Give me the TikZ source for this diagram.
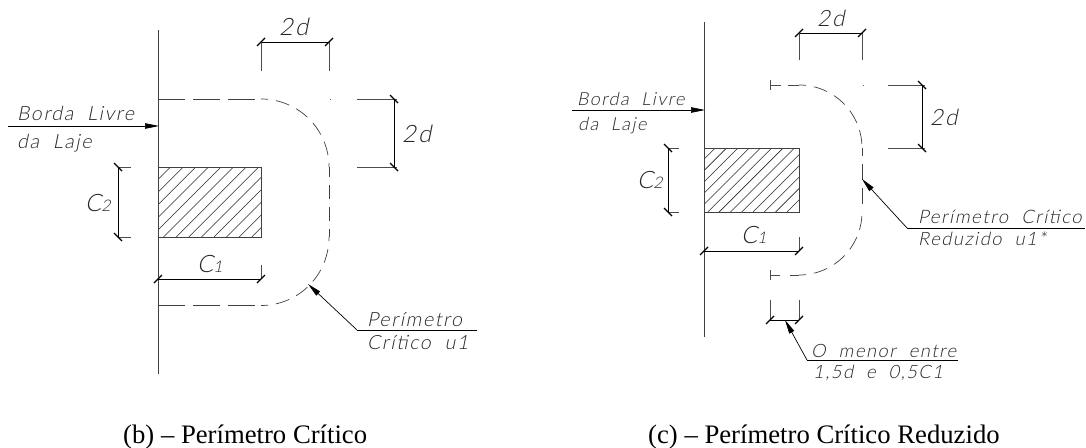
\documentclass[tikz,border=0pt]{standalone}
\usepackage{fontspec}
\setmainfont{Liberation Serif}
\newfontfamily\cadfont[FakeSlant=0.2,LetterSpace=8,WordSpace=2]{Lato Light}
\usetikzlibrary{arrows.meta,calc}
\tikzset{
  x=1pt,y=-1pt,
  edgeline/.style={draw=black!75,line width=0.9pt},
  dimline/.style={draw=black,line width=0.7pt},
  extline/.style={draw=black!70,line width=0.7pt},
  tickmark/.style={draw=black,line width=1.1pt},
  dashbig/.style={draw=black!75,line width=0.7pt,dash pattern=on 27pt off 8pt},
  dashvert/.style={draw=black!75,line width=0.7pt,dash pattern=on 14pt off 8pt},
  dashsmall/.style={draw=black!75,line width=0.7pt,dash pattern=on 14pt off 8pt,dash phase=7pt},
  leader/.style={draw=black,line width=0.7pt,-{Triangle[length=14pt,width=5.5pt]}},
  cad/.style={inner sep=0pt,anchor=base west,text=black!85,font=\cadfont\fontsize{19.6}{20}\selectfont},
  cadr/.style={cad,font=\cadfont\fontsize{18.4}{20}\selectfont},
  cadbig/.style={cad,font=\cadfont\fontsize{24}{24}\selectfont},
  cadbigr/.style={cad,font=\cadfont\fontsize{22.5}{24}\selectfont},
  capt/.style={inner sep=0pt,anchor=base west,text=black,font=\fontsize{26.7}{28}\selectfont},
}
\newcommand{\dimtick}[1]{\draw[tickmark] ($(#1)+(-4,4)$) -- ($(#1)+(4,-4)$);}
\newcommand{\dimtickb}[1]{\draw[tickmark] ($(#1)+(-4,-4)$) -- ($(#1)+(4,4)$);}
\newcommand{\subs}[1]{{\fontsize{16}{16}\selectfont #1}}
\begin{document}
\begin{tikzpicture}
\useasboundingbox (0,0) rectangle (1086,447);
% ---------- LEFT FIGURE (b)
\coordinate (bTop) at (158,30); \coordinate (bBot) at (158,374);
\draw[edgeline] (bTop) -- (bBot);
\coordinate (bR1) at (158,167); \coordinate (bR2) at (261,237);
\begin{scope}
\clip (bR1) rectangle (bR2);
\foreach \k in {0,...,14} \draw[black!85,line width=0.55pt] (158+\k*12.6-70,237) -- ++(70,-70);
\end{scope}
\draw[edgeline] (bR1) rectangle (bR2);
% perimeter
\draw[dashbig] (158,99) -- (261,99);
\draw[dashsmall] (261,99) .. controls (298.6,99) and (329,129.4) .. (329,167);
\draw[dashvert,dash phase=4pt] (329,167) -- (329,237);
\draw[dashsmall] (261,305.5) .. controls (298.6,305.5) and (329,275) .. (329,237);
\draw[dashbig] (158,305.5) -- (261,305.5);
\fill[black!60] (329.5,98.5) rectangle (330.5,99.5);
% 2d top
\coordinate (bA) at (261,42); \coordinate (bB) at (329,42);
\draw[dimline] (bA) -- (bB);
\draw[extline] (bA) -- (261,71); \draw[extline] (bB) -- (329,71);
\dimtick{bA}\dimtick{bB}
\node[cadbig] (bT2d) at (279,35) {2d};
% 2d right
\coordinate (bC) at (394,99); \coordinate (bD) at (394,167);
\draw[dimline] (bC) -- (bD);
\draw[extline] (357,99) -- (397,99); \draw[extline] (357,167) -- (397,167);
\dimtickb{bC}\dimtickb{bD}
\node[cadbig] (bR2d) at (402,142) {2d};
% Borda
\coordinate (bS) at (8,126); \coordinate (bE) at (159,126);
\draw[leader] (bS) -- (bE);
\node[cad] (bBorda) at (17,120) {Borda Livre};
\node[cad] (bLaje) at (17,148) {da Laje};
% C2
\coordinate (bF) at (118,167); \coordinate (bG) at (118,237);
\draw[dimline] (bF) -- (bG);
\draw[extline] (bF) -- (131,167); \draw[extline] (bG) -- (131,237);
\dimtickb{bF}\dimtickb{bG}
\node[cadbig] (bC2) at (85,211) {C\subs{2}};
% C1
\coordinate (bH) at (158,279); \coordinate (bI) at (261,279);
\draw[dimline] (bH) -- (bI);
\draw[edgeline] (bH) -- (158,265); \draw[extline] (bI) -- (261,265);
\dimtick{bH}\dimtick{bI}
\node[cadbig] (bC1) at (197,272) {C\subs{1}};
% leader
\coordinate (bL1) at (357,330); \coordinate (bL0) at (477,330); \coordinate (bL2) at (308,284);
\draw[dimline] (bL0) -- (bL1);
\draw[leader] (bL1) -- (bL2);
\node[cad] (bPer) at (367,326) {Perímetro};
\node[cad] (bCri) at (367,349) {Crítico u1};
\node[capt] (bCap) at (123,443) {(b) – Perímetro Crítico};
% ---------- RIGHT FIGURE (c)
\coordinate (cTop) at (704,22); \coordinate (cBot) at (704,337);
\draw[edgeline] (cTop) -- (cBot);
\coordinate (cR1) at (704,148); \coordinate (cR2) at (799,212);
\begin{scope}
\clip (cR1) rectangle (cR2);
\foreach \k in {0,...,13} \draw[black!85,line width=0.55pt] (704+\k*11.3-64,212) -- ++(64,-64);
\end{scope}
\draw[edgeline] (cR1) rectangle (cR2);
\draw[extline] (770,80) -- (770,90); \draw[extline] (770,85) -- (781,85);
\draw[extline] (788,85) -- (799,85);
\draw[dashsmall] (799,85) .. controls (833.8,85) and (862,113.2) .. (862,148);
\draw[dashvert,dash pattern=on 16pt off 8pt,dash phase=8pt] (862,148) -- (862,212);
\draw[dashsmall] (799,275) .. controls (833.8,275) and (862,246.8) .. (862,212);
\draw[extline] (770,270) -- (770,280); \draw[extline] (770,275) -- (780,275);
\draw[extline] (790,275) -- (799,275);
\fill[black!60] (862.5,84.5) rectangle (863.5,85.5);
% 2d top
\coordinate (cA) at (799,33); \coordinate (cB) at (862,33);
\draw[dimline] (cA) -- (cB);
\draw[extline] (cA) -- (799,60); \draw[extline] (cB) -- (862,60);
\dimtick{cA}\dimtick{cB}
\node[cadbigr] (cT2d) at (817,27) {2d};
% 2d right
\coordinate (cC) at (922,85); \coordinate (cD) at (922,148);
\draw[dimline] (cC) -- (cD);
\draw[extline] (888,85) -- (925,85); \draw[extline] (888,148) -- (925,148);
\dimtickb{cC}\dimtickb{cD}
\node[cadbigr] (cR2d) at (930,125) {2d};
% Borda
\coordinate (cS) at (572,110); \coordinate (cE) at (705,110);
\draw[leader] (cS) -- (cE);
\node[cadr,font=\cadfont\fontsize{18}{20}\selectfont] (cBorda) at (577,105) {Borda Livre};
\node[cadr,font=\cadfont\fontsize{18}{20}\selectfont] (cLaje) at (578,130) {da Laje};
% C2
\coordinate (cF) at (668,148); \coordinate (cG) at (668,212);
\draw[dimline] (cF) -- (cG);
\draw[extline] (cF) -- (679,148); \draw[extline] (cG) -- (679,212);
\dimtickb{cF}\dimtickb{cG}
\node[cadbig] (cC2) at (637,188) {C\subs{2}};
% C1
\coordinate (cH) at (704,251); \coordinate (cI) at (799,251);
\draw[dimline] (cH) -- (cI);
\draw[edgeline] (cH) -- (704,237); \draw[extline] (cI) -- (799,237);
\dimtick{cH}\dimtick{cI}
\node[cadbig] (cC1) at (741,243) {C\subs{1}};
% leader u1*
\coordinate (cL1) at (907,228); \coordinate (cL0) at (1085,228); \coordinate (cL2) at (862,179);
\draw[dimline] (cL0) -- (cL1);
\draw[leader] (cL1) -- (cL2);
\node[cad,font=\cadfont\fontsize{18.6}{20}\selectfont] (cPer) at (918,223) {Perímetro Crítico};
\node[cadr] (cRed) at (918,245) {Reduzido u1*};
% small dim
\coordinate (cJ) at (770,320); \coordinate (cK) at (799,320);
\draw[dimline] (cJ) -- (cK);
\draw[extline] (cJ) -- (770,300); \draw[extline] (cK) -- (799,300);
\dimtick{cJ}\dimtick{cK}
\coordinate (cM1) at (807,360); \coordinate (cM0) at (958,360); \coordinate (cM2) at (785,320);
\draw[dimline] (cM0) -- (cM1);
\draw[leader] (cM1) -- (cM2);
\node[cadr] (cMen) at (811,357) {O menor entre};
\node[cadr] (cVal) at (813,378) {1,5d e 0,5C1};
\node[capt] (cCap) at (648,443) {(c) – Perímetro Crítico Reduzido};
\end{tikzpicture}
\end{document}
